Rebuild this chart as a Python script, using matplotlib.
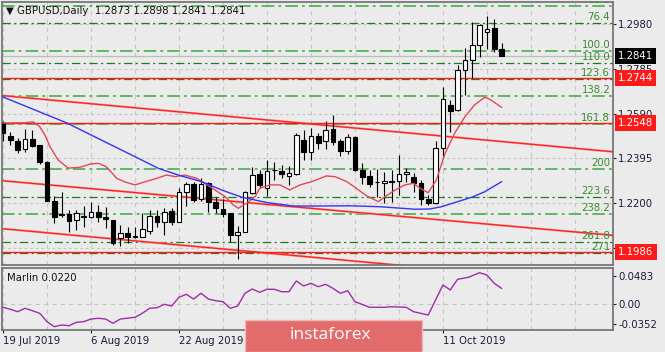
import numpy as np
import matplotlib
matplotlib.use('Agg')
import matplotlib.pyplot as plt
from matplotlib.transforms import blended_transform_factory
from matplotlib.patches import Rectangle

plt.rcParams['font.family'] = ['DejaVu Sans']
plt.rcParams['lines.scale_dashes'] = False

# GBPUSD daily, 19 Jul 2019 .. 23 Oct 2019
opens = np.array([1.2549, 1.2490, 1.2470, 1.2434, 1.2478, 1.2451, 1.2379, 1.2211, 1.2146, 1.2152,
                  1.2126, 1.2138, 1.2138, 1.2162, 1.2141, 1.2126, 1.2046, 1.2071, 1.2056, 1.2053,
                  1.2080, 1.2144, 1.2119, 1.2167, 1.2119, 1.2249, 1.2282, 1.2216, 1.2286, 1.2203,
                  1.2174, 1.2155, 1.2061, 1.2075, 1.2242, 1.2325, 1.2264, 1.2343, 1.2340, 1.2319,
                  1.2327, 1.2475, 1.2421, 1.2492, 1.2470, 1.2521, 1.2470, 1.2428, 1.2489, 1.2344,
                  1.2319, 1.2292, 1.2289, 1.2294, 1.2297, 1.2325, 1.2312, 1.2289, 1.2218, 1.2199,
                  1.2439, 1.2627, 1.2605, 1.2780, 1.2823, 1.2889, 1.2947, 1.2961, 1.2873])
highs = np.array([1.2558, 1.2510, 1.2483, 1.2523, 1.2518, 1.2453, 1.2381, 1.2231, 1.2248, 1.2170,
                  1.2170, 1.2187, 1.2206, 1.2192, 1.2184, 1.2128, 1.2104, 1.2097, 1.2097, 1.2155,
                  1.2170, 1.2170, 1.2177, 1.2177, 1.2264, 1.2293, 1.2293, 1.2310, 1.2293, 1.2228,
                  1.2218, 1.2156, 1.2101, 1.2253, 1.2357, 1.2344, 1.2388, 1.2380, 1.2366, 1.2361,
                  1.2504, 1.2518, 1.2526, 1.2507, 1.2558, 1.2584, 1.2479, 1.2501, 1.2492, 1.2376,
                  1.2344, 1.2347, 1.2337, 1.2344, 1.2409, 1.2351, 1.2332, 1.2300, 1.2235, 1.2472,
                  1.2704, 1.2649, 1.2802, 1.2874, 1.2990, 1.2980, 1.3015, 1.3001, 1.2898])
lows = np.array([1.2470, 1.2453, 1.2418, 1.2422, 1.2444, 1.2372, 1.2209, 1.2114, 1.2139, 1.2075,
                 1.2083, 1.2097, 1.2134, 1.2119, 1.2090, 1.2017, 1.2013, 1.2025, 1.2046, 1.2052,
                 1.2065, 1.2097, 1.2061, 1.2104, 1.2117, 1.2187, 1.2206, 1.2209, 1.2162, 1.2155,
                 1.2138, 1.2029, 1.1958, 1.2074, 1.2240, 1.2264, 1.2231, 1.2300, 1.2308, 1.2279,
                 1.2322, 1.2388, 1.2388, 1.2434, 1.2434, 1.2453, 1.2405, 1.2412, 1.2341, 1.2283,
                 1.2271, 1.2228, 1.2199, 1.2206, 1.2235, 1.2293, 1.2249, 1.2192, 1.2192, 1.2196,
                 1.2402, 1.2511, 1.2603, 1.2671, 1.2744, 1.2838, 1.2870, 1.2859, 1.2841])
closes = np.array([1.2505, 1.2475, 1.2431, 1.2478, 1.2449, 1.2377, 1.2211, 1.2141, 1.2152, 1.2123,
                   1.2155, 1.2144, 1.2162, 1.2138, 1.2129, 1.2025, 1.2071, 1.2051, 1.2054, 1.2086,
                   1.2144, 1.2119, 1.2162, 1.2119, 1.2247, 1.2282, 1.2213, 1.2282, 1.2205, 1.2177,
                   1.2152, 1.2061, 1.2075, 1.2249, 1.2322, 1.2279, 1.2340, 1.2345, 1.2325, 1.2330,
                   1.2497, 1.2424, 1.2492, 1.2463, 1.2518, 1.2467, 1.2428, 1.2489, 1.2344, 1.2315,
                   1.2283, 1.2290, 1.2298, 1.2292, 1.2327, 1.2334, 1.2289, 1.2218, 1.2199, 1.2441,
                   1.2652, 1.2601, 1.2780, 1.2823, 1.2889, 1.2976, 1.2957, 1.2870, 1.2841])

date_ticks = [0, 12, 24, 36, 48, 60]
date_labels = ['19 Jul 2019', '6 Aug 2019', '22 Aug 2019', '9 Sep 2019', '25 Sep 2019', '11 Oct 2019']
price_ticks = [1.2980, 1.2785, 1.2590, 1.2395, 1.2200, 1.2005]

# fast MA (red) and slow MA (blue), sampled along the curve: bar index, price
ma_red_x = [0, 3.0, 4.1, 5.0, 5.7, 6.4, 7.5, 8.9, 10.5, 11.9, 13.0, 14.1, 15.5, 16.6, 18.0, 19.4,
            21.0, 22.3, 23.5, 24.8, 26.4, 27.5, 28.9, 30.3, 31.4, 32.1, 33.2, 34.4, 35.0, 36.4,
            37.8, 39.1, 40.5, 42.1, 44.1, 45.3, 46.9, 48.2, 49.6, 51.2, 52.1, 53.5, 54.8, 56.0,
            56.9, 58.0, 59.1, 60.3, 61.6, 63.0, 64.3, 65.7, 66.4, 68.0]
ma_red_y = [1.2549, 1.2550, 1.2554, 1.2533, 1.2497, 1.2446, 1.2388, 1.2352, 1.2356, 1.2370, 1.2373,
            1.2358, 1.2308, 1.2292, 1.2279, 1.2293, 1.2308, 1.2322, 1.2315, 1.2322, 1.2308, 1.2286,
            1.2257, 1.2228, 1.2192, 1.2177, 1.2199, 1.2228, 1.2264, 1.2279, 1.2279, 1.2257, 1.2279,
            1.2293, 1.2318, 1.2315, 1.2293, 1.2264, 1.2231, 1.2206, 1.2228, 1.2257, 1.2279, 1.2286,
            1.2264, 1.2245, 1.2300, 1.2417, 1.2504, 1.2576, 1.2627, 1.2661, 1.2652, 1.2617]
ma_blue_x = [0, 8.7, 16.6, 21.2, 23.9, 27.1, 29.8, 32.6, 34.4, 36.0, 39.6, 42.8, 47.3, 51.4, 56.2,
             58.2, 59.8, 61.6, 63.9, 65.7, 68.0]
ma_blue_y = [1.2662, 1.2549, 1.2424, 1.2351, 1.2322, 1.2293, 1.2257, 1.2225, 1.2213, 1.2202, 1.2187,
             1.2187, 1.2188, 1.2184, 1.2173, 1.2174, 1.2184, 1.2202, 1.2225, 1.2249, 1.2293]

# channel trend lines: (bar, price) at both ends
trend_lines = [((0, 1.2668), (84, 1.2421)),
               ((0, 1.2297), (84, 1.2057)),
               ((0, 1.2088), (84, 1.1841))]
red_levels = [1.2744, 1.2548, 1.1986]
last_price = 1.2841

# fibonacci expansion
fib_p0, fib_p100 = 1.3378, 1.2863
fib_light = [61.8, 100, 138.2, 161.8, 200, 238.2]
fib_dark = [76.4, 110, 123.6, 223.6, 261.8, 271]
fib_text = {61.8: '61.8', 76.4: '76.4', 100: '100.0', 110: '110.0', 123.6: '123.6', 138.2: '138.2',
            161.8: '161.8', 200: '200', 223.6: '223.6', 238.2: '238.2', 261.8: '261.8', 271: '271'}

# Marlin oscillator
marlin_x = [0, 1, 2, 3, 4, 5, 6, 7, 8, 9, 10, 11, 12, 13, 14, 15, 16, 18, 19, 20, 21, 22, 23, 24,
            25, 26, 27, 28, 29, 30, 31, 32, 33, 34, 35, 36, 37, 38, 39, 40, 41, 42, 43, 44, 45,
            46, 47, 48, 50, 52, 53, 55, 56, 58, 60, 61, 62, 63.5, 65, 66, 67, 68]
marlin_y = [-0.0057, -0.0091, -0.0133, -0.0074, -0.0116, -0.0160, -0.0305, -0.0392, -0.0362, -0.0374,
            -0.0316, -0.0305, -0.0259, -0.0247, -0.0259, -0.0333, -0.0259, -0.0229, -0.0160, -0.0074,
            -0.0064, -0.0005, -0.0035, 0.0116, 0.0167, 0.0086, 0.0185, 0.0086, 0.0057, 0.0040,
            -0.0074, -0.0035, 0.0185, 0.0259, 0.0202, 0.0254, 0.0254, 0.0212, 0.0212, 0.0397,
            0.0311, 0.0357, 0.0298, 0.0340, 0.0271, 0.0185, 0.0229, 0.0040, -0.0057, -0.0057,
            -0.0047, -0.0057, -0.0133, -0.0190, 0.0328, 0.0242, 0.0426, 0.0461, 0.0540, 0.0500,
            0.0357, 0.0270]

W, H = 665, 352
bg = '#ebebeb'
fig = plt.figure(figsize=(W / 100, H / 100), dpi=100, facecolor=bg)
ax = fig.add_axes([2 / W, 1 - 265 / H, 611 / W, 263 / H], facecolor=bg)
ax2 = fig.add_axes([2 / W, 1 - 330 / H, 611 / W, 62 / H], facecolor=bg)

xlim = (-0.14, 83.2)
for a in (ax, ax2):
    a.set_xlim(*xlim)
    for s in a.spines.values():
        s.set_color('#6e6e6e')
        s.set_linewidth(1.2)
    for g in range(0, 84, 6):
        a.axvline(g, color='#c6c6c6', lw=0.8, dashes=(3, 3), zorder=0.5)
ax.set_ylim(1.1930, 1.3076)
ax2.set_ylim(-0.04485, 0.0621)

# grid rows
for p in price_ticks:
    ax.axhline(p, color='#c6c6c6', lw=0.8, dashes=(2, 2), zorder=0.5)
ax.axhline(last_price, color='#bcbcbc', lw=0.9, zorder=0.6)

# fibonacci levels
trans = blended_transform_factory(ax.transAxes, ax.transData)
for lv in fib_light + fib_dark:
    price = fib_p0 - lv / 100 * (fib_p0 - fib_p100)
    if lv in fib_light:
        ax.axhline(price, color='#62b562', lw=1.4, dashes=(9, 3, 2, 3), zorder=1)
    else:
        ax.axhline(price, color='#1c7c1c', lw=0.9, dashes=(6, 2.5, 1.5, 2.5), zorder=1)
    ax.annotate(fib_text[lv], xy=(1, price), xycoords=trans, xytext=(-2, 0.6),
                textcoords='offset points', ha='right', va='bottom', fontsize=7.3,
                color='#3a8a2a', zorder=6, annotation_clip=False, clip_on=True)

# trend lines and horizontal levels
for (x0, y0), (x1, y1) in trend_lines:
    ax.plot([x0, x1], [y0, y1], color='#f49a9a', lw=1.6, zorder=2, solid_capstyle='butt')
    ax.plot([x0, x1], [y0, y1], color='#ff1f1f', lw=0.9, zorder=2.1)
for p in red_levels:
    ax.axhline(p, color='#ff1a1a', lw=1.0, zorder=2)

# candles
idx = np.arange(len(opens))
up = closes >= opens
ax.vlines(idx, lows, highs, color='black', lw=0.8, zorder=4)
body_lo = np.minimum(opens, closes)
body_h = np.maximum(np.abs(closes - opens), 0.00008)
ax.bar(idx, body_h, bottom=body_lo, width=0.62, color=np.where(up, 'white', 'black'),
       edgecolor='black', linewidth=0.8, zorder=5)

# moving averages
ax.plot(ma_red_x, ma_red_y, color='#e2485a', lw=1.0, zorder=6)
ax.plot(ma_blue_x, ma_blue_y, color='#3434f2', lw=1.0, zorder=6)

# right price scale
ax.yaxis.tick_right()
ax.set_yticks(price_ticks)
ax.set_yticklabels(['%.4f' % p for p in price_ticks])
ax.tick_params(axis='y', length=2.2, width=0.8, pad=1.5, labelsize=7.3, colors='#1a1a3a')
ax.set_xticks([])

boxes = [(last_price, 'black'), (1.2744, '#ff1a1a'), (1.2548, '#ff1a1a'), (1.1986, '#ff1a1a')]
for p, c in boxes:
    ax.text(1.0085, p, '%.4f' % p, transform=trans, ha='left', va='center', fontsize=7.3,
            color='white', zorder=7, clip_on=False,
            bbox=dict(boxstyle='square,pad=0.3', fc=c, ec='none'))

ax.text(4 / 611, 1 - 9 / 263, '▼ GBPUSD,Daily  1.2873 1.2898 1.2841 1.2841', transform=ax.transAxes,
        ha='left', va='center', fontsize=7.3, color='#111111', zorder=8)

# indicator panel
ax2.axhline(0, color='#c6c6c6', lw=0.8, dashes=(3, 3), zorder=0.5)
ax2.plot(marlin_x, marlin_y, color='#a02ca8', lw=1.0, zorder=3)
ax2.yaxis.tick_right()
ax2.set_yticks([0.0483, 0.0, -0.0352])
ax2.set_yticklabels(['0.0483', '0.00', '-0.0352'])
ax2.tick_params(axis='y', length=2.2, width=0.8, pad=1.5, labelsize=7.3, colors='#1a1a3a')
ax2.set_xticks(date_ticks)
ax2.set_xticklabels(date_labels)
ax2.tick_params(axis='x', length=2.2, width=0.8, pad=2, labelsize=7.3, colors='#1a1a3a')
for lab in ax2.get_xticklabels():
    lab.set_ha('left')
ax2.text(5 / 611, 1 - 10 / 62, 'Marlin 0.0220', transform=ax2.transAxes, ha='left', va='center',
         fontsize=7.3, color='#111111')

# instaforex badge (covers the middle date labels, as in the source)
fig.add_artist(Rectangle((245 / W, 0), 177 / W, 32 / H, transform=fig.transFigure,
                         fc='#e26b6b', ec='#f3b8b8', lw=1.0, zorder=10))
fig.text(290 / W, 1 - 335 / H, 'instaforex', color='white', fontsize=12.5, va='center', ha='left',
         family=['Open Sans', 'DejaVu Sans'], zorder=11)

fig.savefig('out.png', dpi=100, facecolor=bg)
